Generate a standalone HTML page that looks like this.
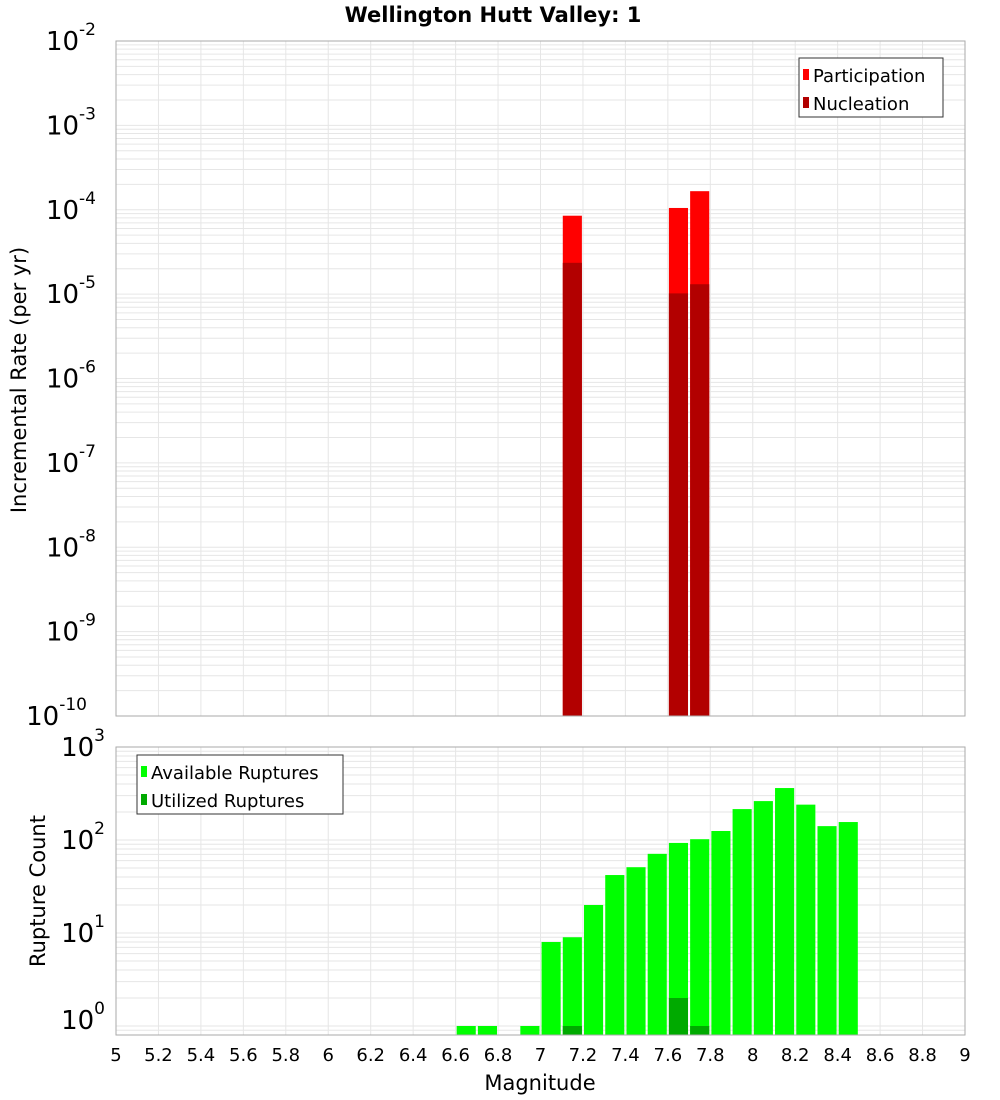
<!DOCTYPE html>
<html><head><meta charset="utf-8"><style>
body{margin:0;background:#fff;}
svg{display:block;font-family:"DejaVu Sans","Liberation Sans",sans-serif;}
</style></head><body>
<svg id="chart" width="1000" height="1100" xmlns="http://www.w3.org/2000/svg">
<text x="493" y="22" text-anchor="middle" font-size="21" font-weight="bold">Wellington Hutt Valley: 1</text>
</svg>
<script>
// ---- data ----
const rateMags = [7.15, 7.65, 7.75];
const participation = [8.5e-5, 1.05e-4, 1.66e-4];
const nucleation = [2.35e-5, 1.02e-5, 1.31e-5];
const countMags = [6.65, 6.75, 6.95, 7.05, 7.15, 7.25, 7.35, 7.45, 7.55, 7.65, 7.75, 7.85, 7.95, 8.05, 8.15, 8.25, 8.35, 8.45];
const available = [1, 1, 1, 8, 9, 20, 42, 51, 71, 93, 102, 125, 215, 262, 362, 240, 141, 156];
const utilizedMags = [7.15, 7.65, 7.75];
const utilized = [1, 2, 1];
const xTicks = ["5","5.2","5.4","5.6","5.8","6","6.2","6.4","6.6","6.8","7","7.2","7.4","7.6","7.8","8","8.2","8.4","8.6","8.8","9"];
const topExps = [-2,-3,-4,-5,-6,-7,-8,-9,-10];
const botExps = [3,2,1,0];

const svg = document.getElementById('chart');
const NS = 'http://www.w3.org/2000/svg';
function mk(tag, attrs, parent){const e=document.createElementNS(NS,tag);for(const k in attrs)e.setAttribute(k,attrs[k]);(parent||svg).appendChild(e);return e;}

const L=116,R=965;
const x = m => L + (m-5)/4*(R-L);
const T1=41,B1=716;
const yTop = v => T1 + (-2 - Math.log10(v))*(B1-T1)/8;
const T2=747,B2=1035;
const dec2=93;
const yBot = v => 1026 - Math.log10(v)*dec2;

function grid(top,bottom,yf,lo,hi,gname){
  const g=mk('g',{});
  
  
  for(let e=lo;e<hi;e++){for(let k=1;k<10;k++){const yy=yf(k*Math.pow(10,e));if(yy>=top&&yy<=bottom)mk('line',{x1:L,x2:R,y1:yy,y2:yy,stroke:'#e6e6e6','stroke-width':1},g);}}
  for(let i=0;i<=20;i++){const xx=x(5+i*0.2);mk('line',{x1:xx,x2:xx,y1:top,y2:bottom,stroke:'#e6e6e6','stroke-width':1},g);}
}
grid(T1,B1,yTop,-10,-1,'top-grid');
grid(T2,B2,yBot,-1,3,'bottom-grid');

const bw=0.09;
function bar(m,v,base,yf,color,name){
  const r=mk('rect',{x:x(m-bw/2),y:yf(v),width:x(m+bw/2)-x(m-bw/2),height:base-yf(v),fill:color});
  
  
}
rateMags.forEach((m,i)=>bar(m,participation[i],B1,yTop,'#ff0000','participation-bar'));
rateMags.forEach((m,i)=>bar(m,nucleation[i],B1,yTop,'#b20000','nucleation-bar'));
countMags.forEach((m,i)=>bar(m,available[i],B2,yBot,'#00ff00','available-bar'));
utilizedMags.forEach((m,i)=>bar(m,utilized[i],B2,yBot,'#00aa00','utilized-bar'));

const f1=mk('rect',{x:L,y:T1,width:R-L,height:B1-T1,fill:'none',stroke:'#aaa','stroke-width':1});


const f2=mk('rect',{x:L,y:T2,width:R-L,height:B2-T2,fill:'none',stroke:'#aaa','stroke-width':1});



function ylab(exp,yy,name){
  const t=mk('text',{x:104,y:yy+9,'text-anchor':'end','font-size':26});
  
  
  const a=mk('tspan',{},t);a.textContent='10';
  const b=mk('tspan',{dy:-15,'font-size':17},t);b.textContent=String(exp);
  t.setAttribute('x',114-(String(exp).length*9));
  t.setAttribute('text-anchor','end');
}
topExps.forEach(e=>ylab(e,yTop(Math.pow(10,e)),'top-y-tick-label'));
botExps.forEach(e=>ylab(e,e===0?1020:yBot(Math.pow(10,e)),'bottom-y-tick-label'));

xTicks.forEach(s=>{
  const t=mk('text',{x:x(parseFloat(s)),y:1061,'text-anchor':'middle','font-size':18});
  
  
  t.textContent=s;
});

const xt=mk('text',{x:540,y:1090,'text-anchor':'middle','font-size':21});


xt.textContent='Magnitude';
const yt1=mk('text',{x:0,y:0,'text-anchor':'middle','font-size':21,transform:'translate(26,380) rotate(-90)'});


yt1.textContent='Incremental Rate (per yr)';
const yt2=mk('text',{x:0,y:0,'text-anchor':'middle','font-size':21,transform:'translate(45,891) rotate(-90)'});


yt2.textContent='Rupture Count';

function legend(bx,by,w,h,items,name){
  const g=mk('g',{});
  
  
  mk('rect',{x:bx,y:by,width:w,height:h,fill:'#fff',stroke:'#333','stroke-width':1},g);
  items.forEach((it,i)=>{
    const cy=by+17+i*28;
    const sw=mk('rect',{x:bx+4,y:cy-6,width:6,height:11,fill:it[1]},g);
    
    
    const t=mk('text',{x:bx+14,y:cy+7,'font-size':18},g);
    
    
    t.textContent=it[0];
  });
}
legend(799,58,144,59,[['Participation','#ff0000'],['Nucleation','#b20000']],'top-legend');
legend(137,755,206,59,[['Available Ruptures','#00ff00'],['Utilized Ruptures','#00aa00']],'bottom-legend');
</script>
</body></html>
